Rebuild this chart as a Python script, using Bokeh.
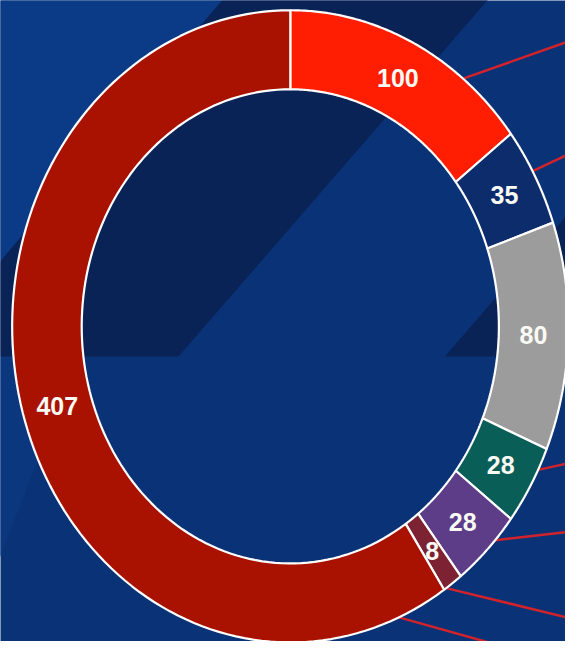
import numpy as np
from bokeh.plotting import figure
from bokeh.models import Range1d, ColumnDataSource
from bokeh.core.properties import value
from bokeh.embed import file_html
from bokeh.resources import INLINE

# ---- data ----
labels = ["100", "35", "80", "28", "28", "8", "407"]
values = [100, 35, 80, 28, 28, 8, 407]
colors = ["#FF1E02", "#0C2C6C", "#9C9C9C", "#0A5E58", "#5D3C88", "#7C2232", "#A91200"]

# leader lines (start angle on outer ring, degrees clockwise from top; end point)
leader_angles = [38.4, 60.6, 117.0, 132.6, 145.9, 157.0]
leader_end_x = [581, 581, 581, 581, 581, 581]
leader_end_y = [43, 159, 475, 545, 632, 680]

# ---- geometry (reference pixel space) ----
CX, CY = 298.0, 334.0
RX, RY = 286.0, 324.0
INNER = 0.75
LABEL_R = 0.875


def pt(a, r):
    return CX + RX * r * np.sin(a), CY - RY * r * np.cos(a)


total = float(sum(values))
ends = np.cumsum(values) / total * 2 * np.pi
starts = np.concatenate([[0.0], ends[:-1]])

xs, ys, lx, ly = [], [], [], []
for a0, a1 in zip(starts, ends):
    t = np.linspace(a0, a1, 120)
    ox, oy = pt(t, 1.0)
    ix, iy = pt(t[::-1], INNER)
    xs.append(list(np.concatenate([ox, ix])))
    ys.append(list(np.concatenate([oy, iy])))
    m = (a0 + a1) / 2
    x, y = pt(m, LABEL_R)
    lx.append(float(x))
    ly.append(float(y))

p = figure(width=565, height=641, output_backend="svg", toolbar_location=None,
           x_range=Range1d(0, 581), y_range=Range1d(657, 0), min_border=0)
p.axis.visible = False
p.xgrid.visible = False
p.ygrid.visible = False
p.outline_line_color = None
p.background_fill_color = "#0A3277"
p.border_fill_color = "#0A3277"

# background decoration
p.patch([-5, 232, -5], [-5, -5, 273], fill_color="#0B3B87", line_color=None)
p.patch([-5, 80, -5], [365, 365, 582], fill_color="#0B377F", line_color=None)
p.patch([232, 505, 183, -5, -5], [-5, -5, 365, 365, 273], fill_color="#0A2357", line_color=None)
p.patch([457, 600, 600], [365, 200, 365], fill_color="#0A2357", line_color=None)

# leader lines
la = np.radians(leader_angles)
sx, sy = pt(la, 1.0)
p.segment(x0=list(sx), y0=list(sy), x1=leader_end_x, y1=leader_end_y,
          line_color="#D0232C", line_width=2.5)

src = ColumnDataSource(dict(xs=xs, ys=ys, color=colors))
p.patches("xs", "ys", source=src, fill_color="color", line_color="white", line_width=2.2)

tsrc = ColumnDataSource(dict(x=lx, y=ly, t=labels))
p.text("x", "y", text="t", source=tsrc, text_color="#FAFAF5",
       text_font=value("Liberation Sans"), text_font_style="bold",
       text_font_size="25px", text_align="center", text_baseline="middle")

open("out.html", "w").write(file_html(p, INLINE))
